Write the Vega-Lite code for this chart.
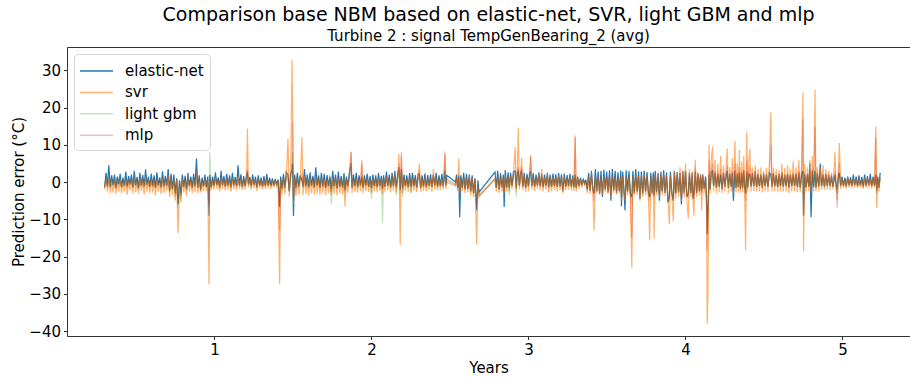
{
"$schema":"https://vega.github.io/schema/vega-lite/v6.json",
"width":843,"height":289,
"autosize":{"type":"none"},
"padding":{"left":67,"top":47,"right":0,"bottom":42},
"title":{"text":"Comparison base NBM based on elastic-net, SVR, light GBM and mlp","subtitle":"Turbine 2 : signal TempGenBearing_2 (avg)","anchor":"middle","frame":"group","font":"DejaVu Sans","fontSize":19,"fontWeight":"normal","color":"black","subtitleFont":"DejaVu Sans","subtitleFontSize":15,"subtitleColor":"black","offset":3,"subtitlePadding":4},
"data":{"values":[
{"t":0.300,"e":-1.5,"s":-2.0,"g":-1.0,"m":-1.2},
{"t":0.309,"e":2.5,"s":1.0,"g":1.5,"m":1.0},
{"t":0.318,"e":-1.0,"s":-2.5,"g":-1.5,"m":-1.0},
{"t":0.327,"e":4.5,"s":0.5,"g":2.0,"m":1.5},
{"t":0.336,"e":-1.2,"s":-3.0,"g":-1.2,"m":-1.5},
{"t":0.345,"e":1.8,"s":-0.5,"g":0.8,"m":1.0},
{"t":0.354,"e":-0.8,"s":-2.8,"g":-1.2,"m":-0.8},
{"t":0.363,"e":2.0,"s":0.5,"g":1.0,"m":0.5},
{"t":0.372,"e":-1.5,"s":-3.2,"g":-1.5,"m":-1.8},
{"t":0.381,"e":1.5,"s":0.0,"g":0.6,"m":1.2},
{"t":0.390,"e":-0.5,"s":-2.5,"g":-0.8,"m":-1.0},
{"t":0.399,"e":2.2,"s":0.8,"g":1.2,"m":0.9},
{"t":0.408,"e":-1.3,"s":-3.0,"g":-1.2,"m":-1.4},
{"t":0.417,"e":1.2,"s":-0.2,"g":0.5,"m":0.6},
{"t":0.426,"e":-0.9,"s":-2.6,"g":-1.0,"m":-1.1},
{"t":0.435,"e":2.8,"s":0.6,"g":1.0,"m":1.5},
{"t":0.444,"e":-1.1,"s":-3.4,"g":-1.3,"m":-1.6},
{"t":0.453,"e":1.6,"s":0.2,"g":0.8,"m":0.7},
{"t":0.462,"e":-0.6,"s":-2.2,"g":-0.9,"m":-0.7},
{"t":0.471,"e":2.0,"s":0.5,"g":1.1,"m":1.0},
{"t":0.480,"e":-1.4,"s":-3.0,"g":-1.4,"m":-1.5},
{"t":0.489,"e":3.0,"s":0.9,"g":1.4,"m":1.2},
{"t":0.498,"e":-0.8,"s":-2.7,"g":-1.1,"m":-1.0},
{"t":0.507,"e":1.4,"s":-0.3,"g":0.6,"m":0.8},
{"t":0.516,"e":-1.6,"s":-3.1,"g":-1.6,"m":-1.7},
{"t":0.525,"e":2.5,"s":1.0,"g":1.2,"m":1.4},
{"t":0.534,"e":-0.9,"s":-2.4,"g":-1.0,"m":-1.0},
{"t":0.543,"e":1.9,"s":0.3,"g":0.9,"m":1.1},
{"t":0.552,"e":-1.2,"s":-3.3,"g":-1.3,"m":-1.4},
{"t":0.561,"e":3.4,"s":1.2,"g":1.3,"m":1.5},
{"t":0.570,"e":-0.7,"s":-2.5,"g":-0.9,"m":-0.9},
{"t":0.579,"e":1.5,"s":0.2,"g":0.7,"m":0.8},
{"t":0.588,"e":-1.3,"s":-3.0,"g":-1.3,"m":-1.3},
{"t":0.597,"e":2.3,"s":0.6,"g":1.1,"m":1.2},
{"t":0.606,"e":-1.0,"s":-2.8,"g":-1.1,"m":-1.2},
{"t":0.615,"e":1.8,"s":0.4,"g":0.9,"m":0.9},
{"t":0.624,"e":-1.5,"s":-3.5,"g":-1.5,"m":-1.6},
{"t":0.633,"e":2.6,"s":0.9,"g":1.2,"m":1.3},
{"t":0.642,"e":-0.8,"s":-2.6,"g":-1.0,"m":-0.9},
{"t":0.651,"e":1.3,"s":0.0,"g":0.6,"m":0.7},
{"t":0.660,"e":-1.4,"s":-3.2,"g":-1.4,"m":-1.5},
{"t":0.669,"e":2.9,"s":1.0,"g":1.3,"m":1.4},
{"t":0.678,"e":-1.1,"s":-2.9,"g":-1.2,"m":-1.2},
{"t":0.687,"e":1.7,"s":0.3,"g":0.8,"m":0.9},
{"t":0.696,"e":-0.9,"s":-2.5,"g":-1.0,"m":-1.1},
{"t":0.705,"e":3.5,"s":2.0,"g":1.5,"m":2.0},
{"t":0.714,"e":-2.5,"s":-4.0,"g":-2.5,"m":-2.2},
{"t":0.723,"e":2.2,"s":1.0,"g":1.2,"m":1.5},
{"t":0.732,"e":-1.8,"s":-3.5,"g":-2.0,"m":-2.0},
{"t":0.741,"e":2.0,"s":0.8,"g":1.0,"m":1.2},
{"t":0.750,"e":-3.0,"s":-5.0,"g":-4.0,"m":-3.0},
{"t":0.759,"e":1.0,"s":0.5,"g":0.5,"m":0.8},
{"t":0.768,"e":-6.0,"s":-13.7,"g":-7.0,"m":-5.5},
{"t":0.777,"e":0.5,"s":-1.0,"g":-0.5,"m":0.2},
{"t":0.786,"e":-3.5,"s":-5.5,"g":-4.5,"m":-3.0},
{"t":0.795,"e":2.0,"s":0.8,"g":1.0,"m":1.2},
{"t":0.804,"e":-1.2,"s":-2.8,"g":-1.3,"m":-1.3},
{"t":0.813,"e":1.7,"s":0.2,"g":0.8,"m":1.0},
{"t":0.822,"e":-2.0,"s":-3.8,"g":-1.8,"m":-2.2},
{"t":0.831,"e":2.4,"s":1.5,"g":1.1,"m":1.4},
{"t":0.840,"e":-1.0,"s":-2.6,"g":-1.1,"m":-1.0},
{"t":0.849,"e":1.5,"s":0.4,"g":0.8,"m":0.9},
{"t":0.858,"e":-1.5,"s":-3.0,"g":-1.5,"m":-1.6},
{"t":0.867,"e":2.2,"s":0.6,"g":1.0,"m":1.1},
{"t":0.876,"e":-1.1,"s":-2.7,"g":-1.2,"m":-1.2},
{"t":0.885,"e":6.3,"s":2.0,"g":1.5,"m":3.0},
{"t":0.894,"e":-1.5,"s":-3.0,"g":-1.5,"m":-1.6},
{"t":0.903,"e":1.8,"s":0.5,"g":0.9,"m":1.0},
{"t":0.912,"e":-2.2,"s":-2.8,"g":-1.7,"m":-2.0},
{"t":0.921,"e":1.2,"s":0.0,"g":0.7,"m":0.6},
{"t":0.930,"e":-1.0,"s":-2.5,"g":-1.0,"m":-1.2},
{"t":0.939,"e":2.0,"s":0.8,"g":1.0,"m":1.1},
{"t":0.948,"e":-1.3,"s":-2.4,"g":-1.3,"m":-1.4},
{"t":0.957,"e":1.5,"s":0.3,"g":0.8,"m":0.9},
{"t":0.965,"e":-9.0,"s":-27.4,"g":-3.0,"m":-6.0},
{"t":0.970,"e":2.0,"s":0.5,"g":8.0,"m":1.5},
{"t":0.979,"e":-1.4,"s":-2.2,"g":-1.4,"m":-1.3},
{"t":0.988,"e":1.5,"s":0.2,"g":0.7,"m":0.9},
{"t":0.997,"e":-1.0,"s":-2.0,"g":-1.1,"m":-1.0},
{"t":1.006,"e":2.6,"s":1.2,"g":1.0,"m":1.4},
{"t":1.015,"e":-0.7,"s":-1.8,"g":-0.8,"m":-0.9},
{"t":1.024,"e":1.3,"s":0.4,"g":0.6,"m":0.8},
{"t":1.033,"e":-1.5,"s":-2.5,"g":-1.4,"m":-1.4},
{"t":1.042,"e":3.0,"s":1.0,"g":1.2,"m":1.5},
{"t":1.051,"e":-0.8,"s":-1.9,"g":-0.9,"m":-0.7},
{"t":1.060,"e":1.6,"s":0.5,"g":0.8,"m":0.9},
{"t":1.069,"e":-1.2,"s":-2.3,"g":-1.2,"m":-1.3},
{"t":1.078,"e":2.2,"s":0.7,"g":1.0,"m":1.1},
{"t":1.087,"e":-0.9,"s":-2.0,"g":-1.0,"m":-1.0},
{"t":1.096,"e":1.8,"s":0.6,"g":0.9,"m":1.0},
{"t":1.105,"e":-1.4,"s":-2.6,"g":-1.3,"m":-1.5},
{"t":1.114,"e":2.5,"s":0.9,"g":1.1,"m":1.3},
{"t":1.123,"e":-0.8,"s":-1.9,"g":-0.9,"m":-0.8},
{"t":1.132,"e":1.4,"s":0.3,"g":0.7,"m":0.8},
{"t":1.141,"e":-1.1,"s":-2.2,"g":-1.1,"m":-1.2},
{"t":1.150,"e":4.5,"s":1.5,"g":1.5,"m":2.0},
{"t":1.159,"e":-0.9,"s":-1.8,"g":-1.0,"m":-0.8},
{"t":1.168,"e":2.1,"s":0.8,"g":1.0,"m":1.2},
{"t":1.177,"e":-1.3,"s":-2.1,"g":-1.2,"m":-1.5},
{"t":1.186,"e":1.6,"s":0.5,"g":0.8,"m":0.9},
{"t":1.195,"e":-1.0,"s":-2.0,"g":-1.0,"m":-1.1},
{"t":1.204,"e":2.0,"s":1.0,"g":1.0,"m":1.2},
{"t":1.210,"e":2.5,"s":14.4,"g":2.0,"m":3.5},
{"t":1.216,"e":-0.6,"s":-1.5,"g":-0.8,"m":-0.6},
{"t":1.225,"e":1.4,"s":0.6,"g":0.7,"m":0.9},
{"t":1.234,"e":-1.1,"s":-2.0,"g":-1.1,"m":-1.2},
{"t":1.243,"e":2.0,"s":0.9,"g":1.0,"m":1.1},
{"t":1.252,"e":-0.7,"s":-1.6,"g":-0.8,"m":-0.8},
{"t":1.261,"e":1.5,"s":0.5,"g":0.8,"m":0.9},
{"t":1.270,"e":-1.4,"s":-2.4,"g":-1.3,"m":-1.5},
{"t":1.279,"e":1.8,"s":0.8,"g":0.9,"m":1.0},
{"t":1.288,"e":-0.9,"s":-1.7,"g":-0.9,"m":-1.0},
{"t":1.297,"e":1.2,"s":0.3,"g":0.6,"m":0.7},
{"t":1.306,"e":-1.2,"s":-2.0,"g":-1.1,"m":-1.2},
{"t":1.315,"e":1.6,"s":0.6,"g":0.8,"m":0.9},
{"t":1.324,"e":-1.0,"s":-1.9,"g":-1.0,"m":-1.0},
{"t":1.333,"e":2.2,"s":0.9,"g":1.0,"m":1.2},
{"t":1.342,"e":-0.9,"s":-1.7,"g":-0.9,"m":-0.9},
{"t":1.351,"e":1.2,"s":0.3,"g":0.6,"m":0.7},
{"t":1.360,"e":-1.0,"s":-1.8,"g":-1.0,"m":-1.0},
{"t":1.369,"e":1.0,"s":0.2,"g":0.5,"m":0.6},
{"t":1.378,"e":-0.8,"s":-1.4,"g":-0.8,"m":-0.8},
{"t":1.387,"e":0.8,"s":0.2,"g":0.4,"m":0.5},
{"t":1.396,"e":-0.6,"s":-1.2,"g":-0.6,"m":-0.7},
{"t":1.405,"e":0.7,"s":0.0,"g":0.4,"m":0.4},
{"t":1.415,"e":-6.7,"s":-27.4,"g":-4.0,"m":-13.0},
{"t":1.421,"e":1.5,"s":0.5,"g":1.0,"m":1.0},
{"t":1.430,"e":-1.8,"s":-3.5,"g":-1.5,"m":-2.0},
{"t":1.439,"e":2.2,"s":1.0,"g":1.2,"m":1.4},
{"t":1.448,"e":-1.5,"s":-3.2,"g":-1.4,"m":-1.6},
{"t":1.457,"e":2.8,"s":1.2,"g":1.3,"m":1.5},
{"t":1.468,"e":2.0,"s":11.7,"g":1.5,"m":2.0},
{"t":1.476,"e":-2.5,"s":-4.0,"g":-2.0,"m":-2.5},
{"t":1.485,"e":2.4,"s":1.5,"g":1.2,"m":1.5},
{"t":1.494,"e":3.0,"s":32.9,"g":3.0,"m":5.0},
{"t":1.497,"e":5.0,"s":21.4,"g":8.0,"m":16.0},
{"t":1.503,"e":-9.1,"s":-6.0,"g":-4.0,"m":-5.0},
{"t":1.510,"e":2.0,"s":1.0,"g":1.5,"m":1.5},
{"t":1.519,"e":-1.5,"s":-3.8,"g":-1.5,"m":-2.0},
{"t":1.528,"e":2.5,"s":1.0,"g":1.2,"m":1.5},
{"t":1.537,"e":-1.2,"s":-3.3,"g":-1.3,"m":-1.4},
{"t":1.546,"e":1.8,"s":0.6,"g":0.9,"m":1.0},
{"t":1.557,"e":0.5,"s":12.0,"g":1.0,"m":2.0},
{"t":1.564,"e":-1.2,"s":-3.5,"g":-1.3,"m":-1.5},
{"t":1.573,"e":3.5,"s":1.5,"g":1.2,"m":1.5},
{"t":1.582,"e":-1.0,"s":-3.2,"g":-1.2,"m":-1.2},
{"t":1.591,"e":2.0,"s":0.8,"g":1.0,"m":1.2},
{"t":1.600,"e":-1.3,"s":-3.6,"g":-1.5,"m":-1.6},
{"t":1.609,"e":2.6,"s":1.0,"g":1.2,"m":1.3},
{"t":1.618,"e":-0.9,"s":-3.0,"g":-1.1,"m":-1.1},
{"t":1.627,"e":1.7,"s":0.4,"g":0.8,"m":0.9},
{"t":1.636,"e":-1.4,"s":-3.4,"g":-1.4,"m":-1.5},
{"t":1.645,"e":4.0,"s":1.5,"g":1.3,"m":1.8},
{"t":1.654,"e":-0.8,"s":-3.0,"g":-1.0,"m":-1.0},
{"t":1.663,"e":1.8,"s":0.5,"g":0.9,"m":1.0},
{"t":1.672,"e":-1.5,"s":-3.4,"g":-1.4,"m":-1.6},
{"t":1.681,"e":2.5,"s":1.0,"g":1.2,"m":1.4},
{"t":1.690,"e":-1.1,"s":-3.0,"g":-1.2,"m":-1.3},
{"t":1.699,"e":2.2,"s":0.8,"g":1.0,"m":1.2},
{"t":1.708,"e":-1.6,"s":-3.5,"g":-1.5,"m":-1.7},
{"t":1.717,"e":1.9,"s":0.6,"g":0.9,"m":1.0},
{"t":1.726,"e":-1.0,"s":-2.9,"g":-1.1,"m":-1.1},
{"t":1.735,"e":1.5,"s":0.3,"g":2.0,"m":0.9},
{"t":1.744,"e":-2.0,"s":-3.5,"g":-6.0,"m":-2.5},
{"t":1.753,"e":3.0,"s":1.0,"g":1.0,"m":1.5},
{"t":1.762,"e":-1.0,"s":-3.2,"g":-1.2,"m":-1.2},
{"t":1.771,"e":2.0,"s":0.8,"g":1.0,"m":1.1},
{"t":1.780,"e":-1.6,"s":-3.6,"g":-1.6,"m":-1.8},
{"t":1.789,"e":2.8,"s":1.0,"g":1.2,"m":1.5},
{"t":1.798,"e":-1.2,"s":-3.0,"g":-1.3,"m":-1.3},
{"t":1.807,"e":1.6,"s":0.5,"g":0.8,"m":0.9},
{"t":1.816,"e":-1.4,"s":-3.3,"g":-1.4,"m":-1.5},
{"t":1.825,"e":2.4,"s":0.9,"g":1.1,"m":1.3},
{"t":1.831,"e":-2.0,"s":-6.5,"g":-2.5,"m":-2.5},
{"t":1.840,"e":1.5,"s":0.5,"g":0.8,"m":1.0},
{"t":1.849,"e":-1.0,"s":-2.8,"g":-1.1,"m":-1.2},
{"t":1.858,"e":2.2,"s":0.8,"g":1.0,"m":1.2},
{"t":1.870,"e":5.0,"s":8.0,"g":3.0,"m":8.2},
{"t":1.876,"e":-1.5,"s":-3.0,"g":-1.4,"m":-1.5},
{"t":1.885,"e":2.0,"s":0.5,"g":1.0,"m":1.2},
{"t":1.894,"e":-1.0,"s":-2.6,"g":-1.0,"m":-1.1},
{"t":1.903,"e":2.5,"s":1.0,"g":1.2,"m":1.4},
{"t":1.912,"e":-1.3,"s":-2.8,"g":-1.3,"m":-1.4},
{"t":1.921,"e":1.8,"s":0.7,"g":0.9,"m":1.0},
{"t":1.930,"e":-0.9,"s":-2.4,"g":-1.0,"m":-1.0},
{"t":1.938,"e":1.5,"s":6.0,"g":1.5,"m":5.0},
{"t":1.946,"e":-1.5,"s":-3.0,"g":-1.5,"m":-1.6},
{"t":1.955,"e":1.8,"s":0.8,"g":0.9,"m":1.0},
{"t":1.964,"e":-0.8,"s":-2.4,"g":-1.0,"m":-0.9},
{"t":1.973,"e":2.2,"s":1.0,"g":1.1,"m":1.3},
{"t":1.982,"e":-1.2,"s":-2.7,"g":-1.2,"m":-1.3},
{"t":1.991,"e":1.6,"s":0.5,"g":0.8,"m":0.9},
{"t":2.000,"e":-1.5,"s":-3.0,"g":-4.5,"m":-1.6},
{"t":2.009,"e":2.0,"s":0.8,"g":1.0,"m":1.2},
{"t":2.018,"e":-1.0,"s":-2.5,"g":-1.1,"m":-1.1},
{"t":2.027,"e":1.8,"s":0.6,"g":0.9,"m":1.0},
{"t":2.036,"e":-1.3,"s":-2.8,"g":-1.3,"m":-1.4},
{"t":2.045,"e":2.4,"s":1.0,"g":1.2,"m":1.3},
{"t":2.054,"e":-1.0,"s":-2.4,"g":-1.0,"m":-1.1},
{"t":2.063,"e":1.7,"s":0.5,"g":0.8,"m":0.9},
{"t":2.070,"e":-1.8,"s":-3.2,"g":-11.0,"m":-1.8},
{"t":2.077,"e":1.8,"s":0.6,"g":0.9,"m":1.0},
{"t":2.086,"e":-1.2,"s":-2.6,"g":-1.2,"m":-1.2},
{"t":2.095,"e":2.8,"s":1.5,"g":1.4,"m":1.8},
{"t":2.104,"e":-1.0,"s":-2.2,"g":-1.0,"m":-1.0},
{"t":2.113,"e":2.0,"s":0.8,"g":1.0,"m":1.2},
{"t":2.122,"e":-1.4,"s":-2.8,"g":-1.4,"m":-1.5},
{"t":2.131,"e":2.5,"s":1.2,"g":1.2,"m":1.4},
{"t":2.140,"e":-1.0,"s":-2.3,"g":-1.1,"m":-1.1},
{"t":2.149,"e":3.0,"s":2.5,"g":1.5,"m":2.0},
{"t":2.158,"e":-1.4,"s":-2.8,"g":-3.5,"m":-1.5},
{"t":2.167,"e":2.2,"s":1.0,"g":1.1,"m":1.3},
{"t":2.175,"e":4.0,"s":7.6,"g":2.5,"m":5.0},
{"t":2.183,"e":-2.0,"s":-16.8,"g":-2.0,"m":-3.0},
{"t":2.190,"e":3.5,"s":8.0,"g":3.0,"m":7.0},
{"t":2.198,"e":-1.5,"s":-3.0,"g":-4.0,"m":-2.0},
{"t":2.207,"e":2.0,"s":1.0,"g":1.0,"m":1.3},
{"t":2.216,"e":-1.0,"s":-2.4,"g":-1.1,"m":-1.1},
{"t":2.225,"e":1.8,"s":0.7,"g":0.9,"m":1.0},
{"t":2.234,"e":-1.3,"s":-2.6,"g":-1.3,"m":-1.4},
{"t":2.243,"e":2.4,"s":1.0,"g":1.2,"m":1.3},
{"t":2.252,"e":-1.3,"s":-2.8,"g":-3.0,"m":-1.3},
{"t":2.261,"e":2.5,"s":1.0,"g":1.2,"m":1.5},
{"t":2.270,"e":-1.0,"s":-2.3,"g":-1.0,"m":-1.1},
{"t":2.279,"e":1.9,"s":0.8,"g":1.0,"m":1.1},
{"t":2.288,"e":-1.5,"s":-2.7,"g":-1.4,"m":-1.5},
{"t":2.297,"e":2.2,"s":1.0,"g":1.1,"m":1.3},
{"t":2.305,"e":2.0,"s":5.0,"g":1.2,"m":3.0},
{"t":2.313,"e":-1.6,"s":-2.6,"g":-1.5,"m":-1.6},
{"t":2.322,"e":1.8,"s":0.8,"g":0.9,"m":1.0},
{"t":2.331,"e":-1.1,"s":-2.4,"g":-1.1,"m":-1.2},
{"t":2.340,"e":2.3,"s":1.0,"g":1.1,"m":1.3},
{"t":2.349,"e":-1.4,"s":-2.5,"g":-1.3,"m":-1.4},
{"t":2.358,"e":1.9,"s":0.8,"g":1.0,"m":1.1},
{"t":2.367,"e":-1.0,"s":-2.2,"g":-1.0,"m":-1.1},
{"t":2.376,"e":2.1,"s":1.0,"g":1.0,"m":1.2},
{"t":2.385,"e":-1.3,"s":-2.6,"g":-1.3,"m":-1.3},
{"t":2.394,"e":2.0,"s":3.5,"g":1.0,"m":1.5},
{"t":2.403,"e":-0.9,"s":-2.0,"g":-0.9,"m":-1.0},
{"t":2.412,"e":2.5,"s":1.0,"g":1.2,"m":1.4},
{"t":2.421,"e":-1.2,"s":-2.2,"g":-1.2,"m":-1.2},
{"t":2.430,"e":1.8,"s":0.7,"g":0.9,"m":1.0},
{"t":2.439,"e":-1.0,"s":-2.1,"g":-1.0,"m":-1.1},
{"t":2.448,"e":2.2,"s":0.9,"g":1.0,"m":1.2},
{"t":2.457,"e":-1.1,"s":-2.0,"g":-1.1,"m":-1.1},
{"t":2.468,"e":3.0,"s":7.5,"g":2.0,"m":8.2},
{"t":2.474,"e":-0.8,"s":-1.8,"g":-0.9,"m":-1.0},
{"t":2.480,"e":1.8,"s":0.0,"g":0.5,"m":0.8},
{"t":2.535,"e":0.0,"s":-1.0,"g":-0.5,"m":-0.8},
{"t":2.542,"e":2.0,"s":1.0,"g":1.0,"m":1.2},
{"t":2.549,"e":-1.5,"s":-2.5,"g":-1.5,"m":-1.6},
{"t":2.556,"e":1.5,"s":6.4,"g":1.5,"m":2.0},
{"t":2.562,"e":-9.4,"s":-3.0,"g":-2.0,"m":-3.0},
{"t":2.569,"e":1.8,"s":0.5,"g":1.0,"m":1.0},
{"t":2.578,"e":-1.5,"s":-2.5,"g":-1.5,"m":-1.6},
{"t":2.587,"e":2.5,"s":1.0,"g":1.2,"m":1.5},
{"t":2.596,"e":-2.0,"s":-3.0,"g":-1.8,"m":-2.0},
{"t":2.605,"e":2.2,"s":1.2,"g":1.1,"m":1.4},
{"t":2.614,"e":-1.8,"s":-2.8,"g":-1.7,"m":-1.9},
{"t":2.623,"e":2.0,"s":1.5,"g":1.0,"m":1.4},
{"t":2.632,"e":-2.5,"s":-3.5,"g":-2.5,"m":-2.5},
{"t":2.641,"e":1.8,"s":1.0,"g":0.9,"m":1.2},
{"t":2.650,"e":-3.0,"s":-4.0,"g":-3.0,"m":-3.0},
{"t":2.659,"e":1.0,"s":1.0,"g":0.5,"m":0.8},
{"t":2.670,"e":-7.6,"s":-16.8,"g":-6.0,"m":-7.0},
{"t":2.678,"e":0.5,"s":-1.0,"g":-1.0,"m":-0.5},
{"t":2.685,"e":-2.7,"s":-4.0,"g":-3.5,"m":-3.5},
{"t":2.787,"e":2.7,"s":1.0,"g":0.5,"m":1.0},
{"t":2.795,"e":-1.5,"s":-2.5,"g":-1.5,"m":-1.6},
{"t":2.804,"e":3.0,"s":1.5,"g":1.5,"m":2.0},
{"t":2.813,"e":-2.0,"s":-3.0,"g":-1.8,"m":-2.0},
{"t":2.822,"e":2.4,"s":1.2,"g":1.2,"m":1.5},
{"t":2.831,"e":-1.4,"s":-2.6,"g":-1.4,"m":-1.5},
{"t":2.840,"e":2.0,"s":1.0,"g":1.0,"m":1.2},
{"t":2.845,"e":-6.7,"s":-3.0,"g":-2.0,"m":-2.5},
{"t":2.852,"e":3.2,"s":2.0,"g":1.5,"m":2.0},
{"t":2.861,"e":-1.5,"s":-2.5,"g":-1.4,"m":-1.5},
{"t":2.870,"e":2.6,"s":1.5,"g":1.3,"m":1.6},
{"t":2.877,"e":-1.5,"s":-2.5,"g":-3.5,"m":-1.5},
{"t":2.886,"e":2.5,"s":1.5,"g":1.2,"m":1.5},
{"t":2.895,"e":-1.0,"s":-2.0,"g":-1.0,"m":-1.0},
{"t":2.904,"e":2.8,"s":2.0,"g":1.4,"m":1.7},
{"t":2.915,"e":3.0,"s":9.4,"g":2.0,"m":3.0},
{"t":2.922,"e":-1.5,"s":-2.5,"g":-4.0,"m":-1.5},
{"t":2.928,"e":2.5,"s":2.0,"g":1.3,"m":1.6},
{"t":2.935,"e":3.0,"s":14.6,"g":2.5,"m":4.0},
{"t":2.942,"e":-1.0,"s":-2.0,"g":-1.0,"m":-1.0},
{"t":2.949,"e":2.4,"s":1.5,"g":1.2,"m":1.5},
{"t":2.956,"e":3.0,"s":6.5,"g":1.5,"m":4.0},
{"t":2.964,"e":-1.2,"s":-2.2,"g":-1.2,"m":-1.3},
{"t":2.973,"e":2.5,"s":1.5,"g":1.2,"m":1.5},
{"t":2.982,"e":-1.5,"s":-2.6,"g":-1.5,"m":-1.5},
{"t":2.991,"e":2.2,"s":1.2,"g":1.1,"m":1.4},
{"t":3.000,"e":-1.1,"s":-2.3,"g":-1.1,"m":-1.2},
{"t":3.007,"e":2.6,"s":1.6,"g":1.3,"m":1.6},
{"t":3.014,"e":2.8,"s":7.2,"g":2.0,"m":7.0},
{"t":3.021,"e":-1.0,"s":-2.0,"g":-1.0,"m":-1.0},
{"t":3.030,"e":2.4,"s":1.5,"g":1.2,"m":1.5},
{"t":3.039,"e":-1.2,"s":-2.4,"g":-1.2,"m":-1.2},
{"t":3.048,"e":2.0,"s":1.0,"g":1.0,"m":1.3},
{"t":3.057,"e":-0.8,"s":-1.8,"g":-0.9,"m":-0.9},
{"t":3.066,"e":2.6,"s":2.0,"g":1.3,"m":1.6},
{"t":3.075,"e":-1.1,"s":-2.2,"g":-1.1,"m":-1.2},
{"t":3.084,"e":2.2,"s":3.5,"g":1.1,"m":1.5},
{"t":3.093,"e":-1.3,"s":-2.5,"g":-1.3,"m":-1.4},
{"t":3.102,"e":2.0,"s":1.2,"g":1.0,"m":1.2},
{"t":3.111,"e":-1.0,"s":-2.0,"g":-1.0,"m":-1.0},
{"t":3.120,"e":2.5,"s":2.5,"g":1.2,"m":1.5},
{"t":3.129,"e":-1.4,"s":-2.8,"g":-1.3,"m":-1.5},
{"t":3.138,"e":2.0,"s":1.0,"g":1.0,"m":1.2},
{"t":3.147,"e":-1.2,"s":-2.4,"g":-1.2,"m":-1.3},
{"t":3.156,"e":2.3,"s":1.5,"g":1.1,"m":1.4},
{"t":3.165,"e":-1.0,"s":-2.1,"g":-1.0,"m":-1.1},
{"t":3.174,"e":2.1,"s":1.3,"g":1.0,"m":1.3},
{"t":3.183,"e":-1.3,"s":-2.5,"g":-1.3,"m":-1.3},
{"t":3.192,"e":2.4,"s":1.8,"g":1.2,"m":1.5},
{"t":3.201,"e":-1.1,"s":-2.2,"g":-1.1,"m":-1.2},
{"t":3.210,"e":2.0,"s":1.2,"g":1.0,"m":1.2},
{"t":3.219,"e":-2.5,"s":-3.0,"g":-1.5,"m":-2.0},
{"t":3.228,"e":2.3,"s":1.5,"g":1.1,"m":1.4},
{"t":3.237,"e":-1.2,"s":-2.2,"g":-1.2,"m":-1.2},
{"t":3.246,"e":1.9,"s":1.1,"g":0.9,"m":1.1},
{"t":3.255,"e":-1.0,"s":-2.0,"g":-1.0,"m":-1.0},
{"t":3.264,"e":2.2,"s":1.4,"g":1.1,"m":1.3},
{"t":3.273,"e":-1.2,"s":-2.2,"g":-1.2,"m":-1.2},
{"t":3.282,"e":1.8,"s":1.2,"g":0.9,"m":1.0},
{"t":3.290,"e":-1.4,"s":-2.4,"g":-1.3,"m":-1.4},
{"t":3.297,"e":2.0,"s":12.5,"g":2.0,"m":12.0},
{"t":3.304,"e":-1.6,"s":-2.5,"g":-1.4,"m":-1.5},
{"t":3.313,"e":1.5,"s":1.0,"g":0.8,"m":1.0},
{"t":3.322,"e":-1.0,"s":-1.8,"g":-1.0,"m":-1.0},
{"t":3.331,"e":1.2,"s":0.8,"g":0.6,"m":0.8},
{"t":3.340,"e":-0.8,"s":-1.5,"g":-0.8,"m":-0.8},
{"t":3.349,"e":0.9,"s":0.5,"g":0.5,"m":0.6},
{"t":3.358,"e":-0.4,"s":-0.8,"g":-0.4,"m":-0.4},
{"t":3.365,"e":0.6,"s":0.2,"g":0.3,"m":0.4},
{"t":3.374,"e":-2.0,"s":-3.0,"g":-1.8,"m":-2.0},
{"t":3.383,"e":2.5,"s":1.0,"g":1.2,"m":1.5},
{"t":3.392,"e":-2.4,"s":-3.2,"g":-2.0,"m":-2.2},
{"t":3.401,"e":3.0,"s":2.5,"g":1.5,"m":2.0},
{"t":3.410,"e":-2.0,"s":-3.0,"g":-1.8,"m":-2.0},
{"t":3.418,"e":-3.0,"s":-13.0,"g":-3.0,"m":-5.0},
{"t":3.426,"e":3.5,"s":1.5,"g":1.5,"m":2.0},
{"t":3.435,"e":-2.5,"s":-3.0,"g":-2.0,"m":-2.5},
{"t":3.444,"e":2.8,"s":1.2,"g":1.3,"m":1.6},
{"t":3.453,"e":-3.2,"s":-3.4,"g":-2.4,"m":-2.8},
{"t":3.462,"e":3.0,"s":1.0,"g":1.2,"m":1.5},
{"t":3.471,"e":-4.0,"s":-3.5,"g":-2.5,"m":-3.0},
{"t":3.480,"e":3.3,"s":1.5,"g":1.5,"m":1.8},
{"t":3.489,"e":-2.0,"s":-2.8,"g":-1.8,"m":-2.0},
{"t":3.498,"e":2.8,"s":1.0,"g":1.2,"m":1.5},
{"t":3.507,"e":-2.8,"s":-3.2,"g":-2.2,"m":-2.5},
{"t":3.516,"e":3.2,"s":1.4,"g":1.4,"m":1.7},
{"t":3.525,"e":-5.0,"s":-4.0,"g":-3.0,"m":-3.5},
{"t":3.534,"e":3.5,"s":1.5,"g":1.5,"m":2.0},
{"t":3.543,"e":-2.2,"s":-3.0,"g":-2.0,"m":-2.2},
{"t":3.552,"e":3.0,"s":1.2,"g":1.3,"m":1.6},
{"t":3.561,"e":-3.0,"s":-3.4,"g":-2.4,"m":-2.6},
{"t":3.570,"e":2.6,"s":1.0,"g":1.2,"m":1.4},
{"t":3.579,"e":-2.5,"s":-3.0,"g":-2.0,"m":-2.3},
{"t":3.588,"e":3.1,"s":1.3,"g":1.4,"m":1.7},
{"t":3.592,"e":-6.5,"s":-5.0,"g":-4.0,"m":-4.0},
{"t":3.600,"e":2.8,"s":1.5,"g":1.5,"m":1.8},
{"t":3.609,"e":-3.0,"s":-3.5,"g":-2.5,"m":-2.8},
{"t":3.615,"e":-7.6,"s":-5.0,"g":-4.5,"m":-4.5},
{"t":3.622,"e":3.2,"s":1.0,"g":1.4,"m":1.7},
{"t":3.631,"e":-2.5,"s":-3.5,"g":-2.5,"m":-2.5},
{"t":3.640,"e":3.0,"s":1.4,"g":1.4,"m":1.7},
{"t":3.649,"e":-3.2,"s":-4.0,"g":-2.8,"m":-3.0},
{"t":3.658,"e":-4.0,"s":-23.0,"g":-6.0,"m":-15.0},
{"t":3.665,"e":3.0,"s":1.5,"g":1.5,"m":1.8},
{"t":3.674,"e":-3.0,"s":-3.5,"g":-2.5,"m":-2.8},
{"t":3.683,"e":3.5,"s":2.0,"g":1.5,"m":2.0},
{"t":3.692,"e":-2.6,"s":-3.4,"g":-2.3,"m":-2.5},
{"t":3.701,"e":2.9,"s":1.6,"g":1.4,"m":1.7},
{"t":3.710,"e":-4.5,"s":-5.0,"g":-3.0,"m":-3.5},
{"t":3.719,"e":2.8,"s":1.5,"g":1.3,"m":1.6},
{"t":3.728,"e":-3.0,"s":-4.0,"g":-3.5,"m":-3.0},
{"t":3.737,"e":3.0,"s":2.0,"g":1.5,"m":1.8},
{"t":3.746,"e":-2.5,"s":-3.5,"g":-2.4,"m":-2.6},
{"t":3.755,"e":2.7,"s":1.6,"g":1.3,"m":1.6},
{"t":3.764,"e":-3.0,"s":-4.0,"g":-2.5,"m":-2.8},
{"t":3.772,"e":-4.0,"s":-15.6,"g":-4.0,"m":-5.0},
{"t":3.779,"e":2.5,"s":1.0,"g":1.2,"m":1.5},
{"t":3.788,"e":-3.0,"s":-3.6,"g":-2.6,"m":-2.8},
{"t":3.795,"e":2.6,"s":1.4,"g":1.3,"m":1.6},
{"t":3.800,"e":-3.5,"s":-15.2,"g":-4.0,"m":-4.0},
{"t":3.807,"e":3.0,"s":1.5,"g":1.5,"m":1.8},
{"t":3.816,"e":-2.8,"s":-3.5,"g":-2.5,"m":-2.6},
{"t":3.825,"e":2.5,"s":1.8,"g":1.2,"m":1.6},
{"t":3.834,"e":-5.0,"s":-4.0,"g":-3.0,"m":-3.5},
{"t":3.843,"e":2.8,"s":2.5,"g":1.3,"m":2.0},
{"t":3.852,"e":-2.5,"s":-3.5,"g":-2.5,"m":-2.5},
{"t":3.861,"e":3.2,"s":2.0,"g":1.5,"m":1.8},
{"t":3.870,"e":-3.0,"s":-3.8,"g":-2.6,"m":-2.8},
{"t":3.879,"e":2.6,"s":1.8,"g":1.3,"m":1.6},
{"t":3.888,"e":-5.5,"s":-4.0,"g":-3.5,"m":-4.0},
{"t":3.897,"e":-4.0,"s":-11.3,"g":-4.0,"m":-5.0},
{"t":3.904,"e":2.8,"s":2.0,"g":1.4,"m":1.7},
{"t":3.913,"e":-3.0,"s":-3.8,"g":-2.6,"m":-2.8},
{"t":3.922,"e":-5.0,"s":-10.5,"g":-4.5,"m":-5.0},
{"t":3.929,"e":3.0,"s":3.0,"g":1.5,"m":2.5},
{"t":3.938,"e":-3.0,"s":-4.5,"g":-3.0,"m":-3.0},
{"t":3.947,"e":2.7,"s":2.5,"g":1.4,"m":2.0},
{"t":3.956,"e":-2.8,"s":-4.0,"g":-2.6,"m":-2.8},
{"t":3.965,"e":2.5,"s":4.0,"g":1.3,"m":2.5},
{"t":3.974,"e":-6.0,"s":-5.0,"g":-4.0,"m":-4.5},
{"t":3.983,"e":3.0,"s":3.0,"g":1.5,"m":2.2},
{"t":3.992,"e":-3.0,"s":-4.2,"g":-2.8,"m":-3.0},
{"t":4.000,"e":3.0,"s":5.0,"g":1.5,"m":3.0},
{"t":4.009,"e":-4.0,"s":-5.0,"g":-3.0,"m":-3.5},
{"t":4.018,"e":-3.0,"s":-9.8,"g":-3.5,"m":-4.0},
{"t":4.025,"e":2.5,"s":3.5,"g":1.5,"m":2.0},
{"t":4.034,"e":-3.0,"s":-4.0,"g":-2.8,"m":-3.0},
{"t":4.043,"e":2.6,"s":3.0,"g":1.4,"m":2.0},
{"t":4.048,"e":-4.5,"s":-5.0,"g":-3.5,"m":-4.0},
{"t":4.054,"e":-3.0,"s":-9.0,"g":-3.0,"m":-4.0},
{"t":4.062,"e":2.8,"s":6.0,"g":1.5,"m":4.0},
{"t":4.071,"e":-3.0,"s":-4.0,"g":-2.5,"m":-3.0},
{"t":4.080,"e":2.4,"s":2.5,"g":1.3,"m":1.8},
{"t":4.089,"e":-2.5,"s":-3.5,"g":-2.3,"m":-2.6},
{"t":4.096,"e":2.0,"s":2.0,"g":1.2,"m":1.5},
{"t":4.103,"e":-2.0,"s":-7.5,"g":-2.5,"m":-3.0},
{"t":4.110,"e":2.0,"s":2.0,"g":1.0,"m":1.5},
{"t":4.119,"e":-1.8,"s":-3.0,"g":-1.6,"m":-1.8},
{"t":4.128,"e":1.5,"s":1.0,"g":0.8,"m":1.0},
{"t":4.135,"e":-6.0,"s":-10.0,"g":-4.0,"m":-6.0},
{"t":4.138,"e":-14.0,"s":-38.0,"g":-10.0,"m":-18.3},
{"t":4.143,"e":-8.0,"s":-30.0,"g":-8.0,"m":-12.0},
{"t":4.150,"e":2.0,"s":10.1,"g":2.5,"m":6.0},
{"t":4.157,"e":-2.0,"s":-3.0,"g":-2.0,"m":-2.0},
{"t":4.164,"e":2.5,"s":6.0,"g":1.8,"m":3.0},
{"t":4.172,"e":3.0,"s":9.5,"g":2.0,"m":5.0},
{"t":4.179,"e":-1.0,"s":-2.5,"g":-1.0,"m":-1.0},
{"t":4.188,"e":2.5,"s":6.0,"g":1.5,"m":3.0},
{"t":4.197,"e":-1.5,"s":-3.0,"g":-1.5,"m":-1.5},
{"t":4.206,"e":2.2,"s":5.0,"g":1.4,"m":2.5},
{"t":4.215,"e":-1.2,"s":-2.6,"g":-1.2,"m":-1.3},
{"t":4.224,"e":2.0,"s":7.0,"g":1.8,"m":3.5},
{"t":4.233,"e":-2.0,"s":-3.0,"g":-1.5,"m":-1.8},
{"t":4.242,"e":2.4,"s":4.5,"g":1.5,"m":2.5},
{"t":4.251,"e":-1.2,"s":-2.5,"g":-1.2,"m":-1.3},
{"t":4.260,"e":2.0,"s":5.0,"g":1.4,"m":2.5},
{"t":4.266,"e":3.0,"s":9.0,"g":2.0,"m":4.5},
{"t":4.273,"e":-1.5,"s":-3.0,"g":-1.5,"m":-1.6},
{"t":4.282,"e":2.2,"s":4.0,"g":1.4,"m":2.2},
{"t":4.291,"e":-1.2,"s":-2.6,"g":-1.2,"m":-1.3},
{"t":4.298,"e":2.5,"s":6.5,"g":1.8,"m":3.0},
{"t":4.305,"e":-5.0,"s":-3.0,"g":-2.0,"m":-2.5},
{"t":4.315,"e":3.0,"s":11.0,"g":2.0,"m":5.0},
{"t":4.322,"e":-1.5,"s":-2.8,"g":-1.5,"m":-1.6},
{"t":4.330,"e":2.2,"s":5.0,"g":1.5,"m":2.5},
{"t":4.336,"e":-1.3,"s":-2.6,"g":-1.3,"m":-1.4},
{"t":4.343,"e":2.5,"s":8.6,"g":2.0,"m":4.0},
{"t":4.350,"e":-2.0,"s":-3.0,"g":-1.5,"m":-1.8},
{"t":4.358,"e":2.4,"s":5.5,"g":1.6,"m":2.8},
{"t":4.364,"e":-1.5,"s":-2.7,"g":-1.4,"m":-1.5},
{"t":4.371,"e":3.0,"s":7.0,"g":2.0,"m":3.5},
{"t":4.377,"e":-1.4,"s":-2.6,"g":-1.3,"m":-1.4},
{"t":4.383,"e":-3.0,"s":-18.3,"g":-3.0,"m":-5.0},
{"t":4.390,"e":3.0,"s":13.4,"g":2.5,"m":6.0},
{"t":4.396,"e":-1.5,"s":-2.5,"g":-1.3,"m":-1.5},
{"t":4.403,"e":2.2,"s":5.0,"g":1.5,"m":2.5},
{"t":4.410,"e":2.0,"s":9.0,"g":1.5,"m":4.0},
{"t":4.417,"e":-1.2,"s":-2.5,"g":-1.2,"m":-1.3},
{"t":4.426,"e":2.4,"s":4.0,"g":1.4,"m":2.2},
{"t":4.435,"e":-1.0,"s":-2.4,"g":-1.0,"m":-1.1},
{"t":4.444,"e":3.0,"s":4.5,"g":1.5,"m":2.0},
{"t":4.453,"e":-1.3,"s":-2.6,"g":-1.2,"m":-1.3},
{"t":4.462,"e":2.2,"s":3.5,"g":1.2,"m":1.8},
{"t":4.471,"e":-1.0,"s":-2.5,"g":-1.0,"m":-1.1},
{"t":4.480,"e":2.0,"s":4.0,"g":1.2,"m":2.0},
{"t":4.489,"e":-1.5,"s":-2.8,"g":-1.3,"m":-1.5},
{"t":4.498,"e":2.3,"s":3.0,"g":1.1,"m":1.5},
{"t":4.507,"e":-1.0,"s":-2.5,"g":-1.0,"m":-1.0},
{"t":4.516,"e":2.1,"s":3.8,"g":1.2,"m":1.8},
{"t":4.525,"e":-1.3,"s":-2.6,"g":-1.2,"m":-1.3},
{"t":4.534,"e":2.5,"s":4.5,"g":1.3,"m":2.0},
{"t":4.544,"e":2.0,"s":18.8,"g":2.0,"m":10.0},
{"t":4.551,"e":-1.2,"s":-2.6,"g":-1.2,"m":-1.3},
{"t":4.560,"e":2.4,"s":4.0,"g":1.2,"m":2.0},
{"t":4.569,"e":-1.0,"s":-2.4,"g":-1.0,"m":-1.0},
{"t":4.578,"e":2.0,"s":3.5,"g":1.1,"m":1.6},
{"t":4.587,"e":-1.3,"s":-2.7,"g":-1.2,"m":-1.3},
{"t":4.596,"e":2.2,"s":3.2,"g":1.1,"m":1.6},
{"t":4.605,"e":-1.0,"s":-2.5,"g":-1.0,"m":-1.1},
{"t":4.614,"e":2.5,"s":5.0,"g":1.3,"m":2.2},
{"t":4.623,"e":-1.2,"s":-2.6,"g":-1.1,"m":-1.2},
{"t":4.632,"e":2.0,"s":3.8,"g":1.1,"m":1.7},
{"t":4.641,"e":-1.0,"s":-2.5,"g":-1.0,"m":-1.1},
{"t":4.650,"e":2.2,"s":4.5,"g":1.2,"m":2.0},
{"t":4.659,"e":-1.5,"s":-3.0,"g":-1.3,"m":-1.4},
{"t":4.668,"e":2.1,"s":3.5,"g":1.2,"m":1.8},
{"t":4.677,"e":-1.1,"s":-2.5,"g":-1.0,"m":-1.1},
{"t":4.686,"e":2.0,"s":5.5,"g":1.5,"m":2.5},
{"t":4.695,"e":-1.0,"s":-2.5,"g":-1.0,"m":-1.0},
{"t":4.704,"e":2.3,"s":4.0,"g":1.2,"m":2.0},
{"t":4.713,"e":-1.3,"s":-2.7,"g":-1.2,"m":-1.3},
{"t":4.722,"e":2.5,"s":6.0,"g":1.5,"m":3.0},
{"t":4.731,"e":-1.5,"s":-2.8,"g":-1.3,"m":-1.5},
{"t":4.740,"e":2.2,"s":4.5,"g":1.3,"m":2.2},
{"t":4.748,"e":3.0,"s":24.1,"g":3.0,"m":17.0},
{"t":4.752,"e":-9.0,"s":-18.6,"g":-5.0,"m":-9.0},
{"t":4.759,"e":2.0,"s":5.0,"g":1.5,"m":2.5},
{"t":4.768,"e":-1.5,"s":-2.5,"g":-1.3,"m":-1.4},
{"t":4.777,"e":2.2,"s":4.0,"g":1.2,"m":2.0},
{"t":4.786,"e":-1.2,"s":-2.4,"g":-1.1,"m":-1.2},
{"t":4.792,"e":5.0,"s":6.0,"g":2.0,"m":3.0},
{"t":4.800,"e":-9.4,"s":-3.0,"g":-2.0,"m":-3.0},
{"t":4.808,"e":3.0,"s":7.0,"g":2.0,"m":3.5},
{"t":4.816,"e":-1.3,"s":-2.5,"g":-1.2,"m":-1.3},
{"t":4.825,"e":3.0,"s":24.8,"g":3.0,"m":14.7},
{"t":4.831,"e":-1.5,"s":-2.5,"g":-1.5,"m":-1.5},
{"t":4.840,"e":2.4,"s":4.0,"g":1.3,"m":2.0},
{"t":4.849,"e":-1.2,"s":-2.3,"g":-1.1,"m":-1.2},
{"t":4.858,"e":5.0,"s":4.0,"g":1.5,"m":2.0},
{"t":4.867,"e":-1.0,"s":-2.0,"g":-1.0,"m":-1.0},
{"t":4.876,"e":2.0,"s":4.5,"g":1.2,"m":2.0},
{"t":4.885,"e":-1.2,"s":-2.2,"g":-1.2,"m":-1.2},
{"t":4.894,"e":2.2,"s":3.5,"g":1.2,"m":1.8},
{"t":4.903,"e":-1.0,"s":-2.0,"g":-1.0,"m":-1.0},
{"t":4.912,"e":2.0,"s":3.0,"g":1.1,"m":1.5},
{"t":4.921,"e":-1.1,"s":-2.1,"g":-1.0,"m":-1.1},
{"t":4.930,"e":1.8,"s":2.5,"g":1.0,"m":1.4},
{"t":4.939,"e":-1.2,"s":-2.0,"g":-1.2,"m":-1.2},
{"t":4.952,"e":2.0,"s":8.0,"g":1.5,"m":3.0},
{"t":4.960,"e":-1.0,"s":-2.0,"g":-1.0,"m":-1.0},
{"t":4.966,"e":-2.0,"s":-3.0,"g":-5.0,"m":-7.0},
{"t":4.974,"e":1.8,"s":3.0,"g":1.0,"m":1.5},
{"t":4.980,"e":2.5,"s":10.5,"g":2.0,"m":5.0},
{"t":4.988,"e":-1.0,"s":-1.8,"g":-1.0,"m":-1.0},
{"t":4.997,"e":1.5,"s":0.8,"g":0.8,"m":0.9},
{"t":5.006,"e":-1.0,"s":-1.5,"g":-0.9,"m":-0.9},
{"t":5.015,"e":1.2,"s":0.3,"g":0.7,"m":0.8},
{"t":5.024,"e":-1.2,"s":-1.8,"g":-1.0,"m":-1.1},
{"t":5.033,"e":1.5,"s":1.5,"g":0.8,"m":1.0},
{"t":5.042,"e":-0.8,"s":-1.5,"g":-0.8,"m":-0.8},
{"t":5.051,"e":1.3,"s":0.5,"g":0.7,"m":0.8},
{"t":5.060,"e":-1.0,"s":-1.6,"g":-0.9,"m":-1.0},
{"t":5.069,"e":2.0,"s":1.0,"g":1.0,"m":1.2},
{"t":5.078,"e":-0.8,"s":-1.3,"g":-0.8,"m":-0.8},
{"t":5.087,"e":1.5,"s":0.8,"g":0.8,"m":0.9},
{"t":5.096,"e":-1.1,"s":-1.6,"g":-1.0,"m":-1.0},
{"t":5.105,"e":1.8,"s":1.0,"g":0.9,"m":1.1},
{"t":5.114,"e":-0.9,"s":-1.5,"g":-0.9,"m":-0.9},
{"t":5.123,"e":1.4,"s":0.6,"g":0.7,"m":0.8},
{"t":5.132,"e":-1.2,"s":-1.8,"g":-1.1,"m":-1.2},
{"t":5.141,"e":2.0,"s":1.2,"g":1.0,"m":1.2},
{"t":5.150,"e":-1.0,"s":-1.5,"g":-0.9,"m":-1.0},
{"t":5.159,"e":1.6,"s":0.8,"g":0.8,"m":0.9},
{"t":5.168,"e":-0.8,"s":-1.4,"g":-0.8,"m":-0.8},
{"t":5.177,"e":2.2,"s":1.0,"g":1.0,"m":1.2},
{"t":5.186,"e":-1.1,"s":-1.7,"g":-1.0,"m":-1.1},
{"t":5.195,"e":1.5,"s":0.8,"g":0.8,"m":0.9},
{"t":5.204,"e":-0.9,"s":-1.5,"g":-0.9,"m":-0.9},
{"t":5.212,"e":2.0,"s":15.0,"g":2.0,"m":12.0},
{"t":5.218,"e":-2.0,"s":-6.9,"g":-2.5,"m":-3.0},
{"t":5.225,"e":1.5,"s":1.0,"g":0.8,"m":1.0},
{"t":5.232,"e":-1.5,"s":-2.5,"g":-1.5,"m":-1.5},
{"t":5.240,"e":2.5,"s":1.0,"g":1.0,"m":1.5}
]},
"transform":[{"fold":["e","s","g","m"],"as":["model","err"]}],
"resolve":{"axis":{"x":"independent"}},
"layer":[
{"transform":[{"filter":"datum.model === 'e'"}],
 "mark":{"type":"line","strokeWidth":1.2,"clip":true},
 "encoding":{
  "x":{"field":"t","type":"quantitative","scale":{"domain":[0.0605,5.43],"nice":false,"zero":false},"axis":{"orient":"bottom","values":[1,2,3,4,5],"title":"Years","labelPadding":3,"titlePadding":3}},
  "y":{"field":"err","type":"quantitative","scale":{"domain":[-41.3,36.25],"nice":false,"zero":false},"axis":{"values":[-40,-30,-20,-10,0,10,20,30],"title":"Prediction error (°C)","labelPadding":3,"titlePadding":2}},
  "color":{"field":"model","type":"nominal","scale":{"domain":["e","s","g","m"],"range":["#1f77b4","rgba(255,127,14,0.6)","rgba(44,160,44,0.3)","rgba(214,39,40,0.3)"]},"title":null,"legend":{"labelExpr":"datum.label == 'e' ? 'elastic-net' : datum.label == 's' ? 'svr' : datum.label == 'g' ? 'light gbm' : 'mlp'"}}
 }},
{"transform":[{"filter":"datum.model === 's'"}],
 "mark":{"type":"line","strokeWidth":1.2,"clip":true},
 "encoding":{
  "x":{"field":"t","type":"quantitative","axis":{"orient":"top","labels":false,"ticks":false,"title":null}},
  "y":{"field":"err","type":"quantitative"},
  "color":{"field":"model","type":"nominal","title":null}
 }},
{"transform":[{"filter":"datum.model === 'g'"}],
 "mark":{"type":"line","strokeWidth":1.2,"clip":true},
 "encoding":{
  "x":{"field":"t","type":"quantitative","axis":null},
  "y":{"field":"err","type":"quantitative"},
  "color":{"field":"model","type":"nominal","title":null}
 }},
{"transform":[{"filter":"datum.model === 'm'"}],
 "mark":{"type":"line","strokeWidth":1.2,"clip":true},
 "encoding":{
  "x":{"field":"t","type":"quantitative","axis":null},
  "y":{"field":"err","type":"quantitative"},
  "color":{"field":"model","type":"nominal","title":null}
 }}
],
"config":{
 "view":{"stroke":null},
 "font":"DejaVu Sans",
 "axis":{"grid":false,"domainColor":"#333","domainWidth":1,"tickColor":"#333","tickSize":3.5,"labelFont":"DejaVu Sans","labelFontSize":15,"labelColor":"black","titleFont":"DejaVu Sans","titleFontSize":15,"titleFontWeight":"normal","titleColor":"black"},
 "legend":{"orient":"top-left","offset":7,"padding":6,"fillColor":"white","strokeColor":"#d6d6d6","cornerRadius":4,"labelFont":"DejaVu Sans","labelFontSize":15,"labelColor":"black","symbolType":"M-1.65,0H1.65","symbolSize":400,"symbolStrokeWidth":1.5,"symbolOffset":5.5,"rowPadding":2.4,"labelOffset":17.5}
}
}
